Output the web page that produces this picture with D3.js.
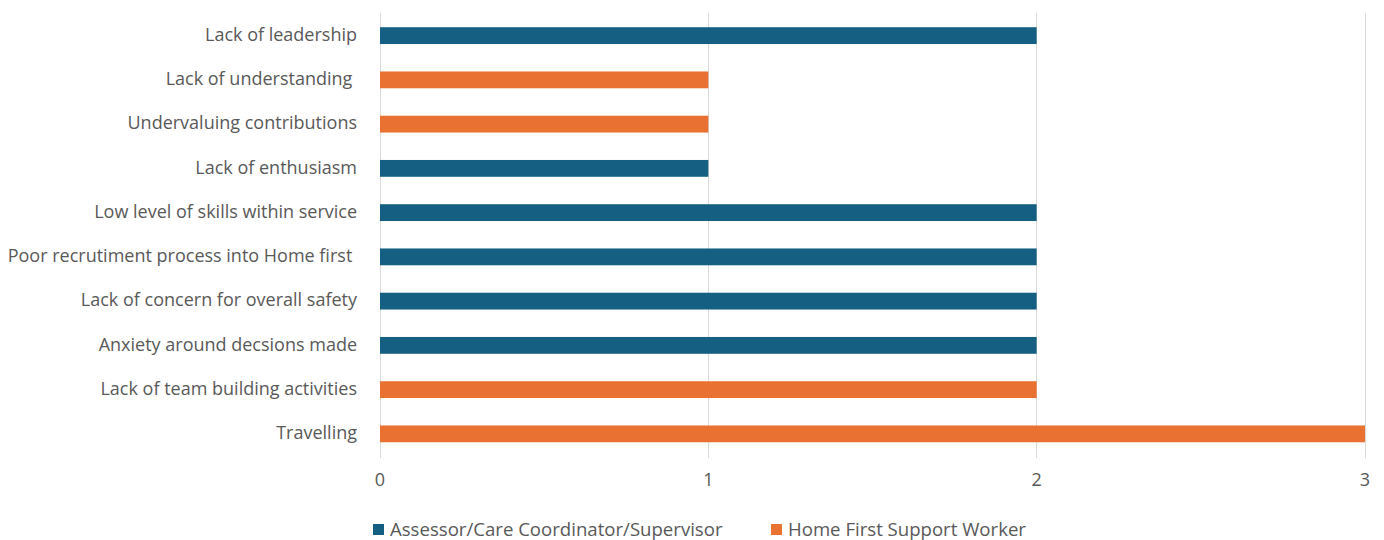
<!DOCTYPE html>
<html><head><meta charset="utf-8">
<script src="https://cdn.jsdelivr.net/npm/d3@7"></script>
<style>body{margin:0;background:#fff;}svg text{font-family:"Open Sans",sans-serif;fill:#595959;white-space:pre;}</style>
</head><body><svg id="c" width="1384" height="540"></svg>
<script>
const categories = ["Lack of leadership","Lack of understanding ","Undervaluing contributions","Lack of enthusiasm","Low level of skills within service","Poor recrutiment process into Home first ","Lack of concern for overall safety","Anxiety around decsions made","Lack of team building activities","Travelling"];
const values = [2,1,1,1,2,2,2,2,2,3];
const groups = ["Assessor/Care Coordinator/Supervisor","Home First Support Worker","Home First Support Worker","Assessor/Care Coordinator/Supervisor","Assessor/Care Coordinator/Supervisor","Assessor/Care Coordinator/Supervisor","Assessor/Care Coordinator/Supervisor","Assessor/Care Coordinator/Supervisor","Home First Support Worker","Home First Support Worker"];
const seriesNames = ["Assessor/Care Coordinator/Supervisor","Home First Support Worker"];
const seriesColors = ["#156082","#E97132"];
const xTicks = [0,1,2,3];

const svg = d3.select("#c");
const x = d3.scaleLinear().domain([0,3]).range([380,1365]);
const y = d3.scaleBand().domain(categories).range([13.5,456]).paddingInner(0.62).paddingOuter(0.31);
const color = d3.scaleOrdinal().domain(seriesNames).range(seriesColors);

svg.append("g").selectAll("line").data(xTicks).join("line")
  .attr("x1",d=>x(d)).attr("x2",d=>x(d)).attr("y1",13).attr("y2",458)
  .attr("stroke","#d9d9d9").attr("stroke-width",1).attr("shape-rendering","crispEdges");

svg.append("g").selectAll("rect").data(categories).join("rect")
  .attr("x",x(0)).attr("y",d=>y(d)).attr("height",y.bandwidth())
  .attr("width",(d,i)=>x(values[i])-x(0)).attr("fill",(d,i)=>color(groups[i]));

svg.append("g").selectAll("text").data(categories).join("text")
  .attr("x",357).attr("y",d=>y(d)+y.bandwidth()/2-1).attr("dy","0.35em")
  .attr("text-anchor","end").attr("font-size",18).text(d=>d);

svg.append("g").selectAll("text").data(xTicks).join("text")
  .attr("x",d=>x(d)).attr("y",480).attr("dy","0.35em").attr("text-anchor","middle")
  .attr("font-size",18).text(d=>d);

const lx = [373,771];
const lg = svg.append("g").selectAll("g").data(seriesNames).join("g")
  .attr("transform",(d,i)=>`translate(${lx[i]},522)`);
lg.append("rect").attr("width",11).attr("height",11).attr("y",2).attr("fill",d=>color(d));
lg.append("text").attr("x",17).attr("y",7).attr("dy","0.35em").attr("font-size",18.6).text(d=>d);
</script></body></html>
